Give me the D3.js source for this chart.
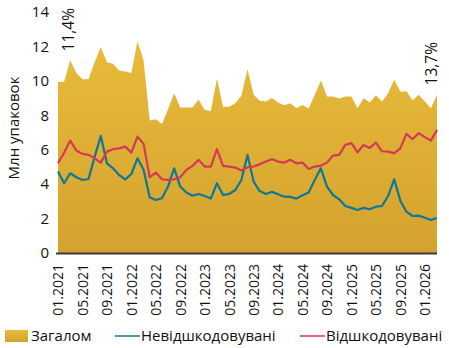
<!DOCTYPE html>
<html><head><meta charset="utf-8">
<script src="https://cdn.jsdelivr.net/npm/d3@7"></script>
<style>
html,body{margin:0;padding:0;background:#fff;}
svg{display:block;font-family:"Open Sans",sans-serif;}
</style></head><body>
<svg id="chart" width="449" height="348"></svg>
<script>
const startYear = 2021, startMonth = 1, monthCount = 63;
const months = d3.range(monthCount).map(i => {
  const m = (startMonth - 1 + i) % 12 + 1, y = startYear + Math.floor((startMonth - 1 + i) / 12);
  return String(m).padStart(2, "0") + "." + y;
});
const total = [9.94,9.95,11.2,10.45,10.1,10.1,11.1,11.96,11.08,11.0,10.6,10.55,10.45,12.3,11.2,7.7,7.77,7.5,8.35,9.28,8.45,8.45,8.45,8.9,8.3,8.25,10.13,8.5,8.5,8.7,9.13,10.68,9.19,8.84,8.8,9.0,8.74,8.58,8.7,8.41,8.6,8.39,9.19,10.02,9.09,9.09,8.97,9.09,9.09,8.41,8.99,8.74,9.17,8.8,9.28,10.06,9.36,9.4,8.86,9.19,8.8,8.41,9.19];
const nonReimbursed = [4.73,4.05,4.63,4.4,4.24,4.3,5.6,6.8,5.21,4.92,4.53,4.28,4.59,5.5,4.83,3.24,3.08,3.18,3.86,4.92,3.86,3.51,3.33,3.43,3.31,3.16,4.05,3.37,3.43,3.66,4.24,5.7,4.15,3.6,3.43,3.55,3.41,3.27,3.26,3.16,3.35,3.51,4.24,4.92,3.86,3.37,3.12,2.73,2.62,2.5,2.62,2.54,2.69,2.73,3.31,4.28,3.04,2.4,2.15,2.17,2.05,1.92,2.03];
const reimbursed = [5.21,5.83,6.53,5.95,5.76,5.7,5.5,5.25,5.89,6.03,6.08,6.18,5.83,6.76,6.34,4.4,4.67,4.28,4.25,4.28,4.4,4.83,5.06,5.41,5.02,5.02,6.03,5.06,5.02,4.96,4.79,4.98,5.02,5.15,5.31,5.45,5.31,5.25,5.41,5.21,5.25,4.88,5.02,5.08,5.25,5.66,5.7,6.28,6.38,5.85,6.28,6.1,6.41,5.91,5.89,5.8,6.08,6.92,6.61,6.96,6.73,6.53,7.15];
const yTicks = [0,2,4,6,8,10,12,14];
const xTickLabels = months.filter((d, i) => i % 4 === 0);
const annotations = [{index: 0, text: "11,4%"}, {index: 62, text: "13,7%"}];
const legendLabels = ["Загалом", "Невідшкодовувані", "Відшкодовувані"];
const yTitle = "Млн упаковок";

const colors = {areaTop: "#e8bb3b", areaBottom: "#d4a22e", blue: "#0e7896", red: "#d23a55", axis: "#3a3a3a", text: "#111"};

const svg = d3.select("#chart");
const x = d3.scalePoint().domain(months).range([58, 437]);
const y = d3.scaleLinear().domain([0, 14]).range([253, 12]);

const defs = svg.append("defs");
const grad = defs.append("linearGradient").attr("id", "ag").attr("x1", 0).attr("y1", 0).attr("x2", 0).attr("y2", 1);
grad.append("stop").attr("offset", "0%").attr("stop-color", colors.areaTop);
grad.append("stop").attr("offset", "100%").attr("stop-color", colors.areaBottom);

const area = d3.area().x((d, i) => x(months[i])).y0(y(0)).y1(d => y(d));
svg.append("path").datum(total).attr("d", area).attr("fill", "url(#ag)");

const line = d3.line().x((d, i) => x(months[i])).y(d => y(d));
svg.append("path").datum(nonReimbursed).attr("d", line).attr("fill", "none").attr("stroke", colors.blue).attr("stroke-width", 2.2).attr("stroke-linejoin", "round");
svg.append("path").datum(reimbursed).attr("d", line).attr("fill", "none").attr("stroke", colors.red).attr("stroke-width", 2.2).attr("stroke-linejoin", "round");

// y axis (labels only)
const yAxis = d3.axisLeft(y).tickValues(yTicks).tickSize(0).tickPadding(0).tickFormat(d3.format("d"));
const gy = svg.append("g").attr("transform", "translate(49,0)").call(yAxis);
gy.select(".domain").remove();
gy.selectAll("text").attr("font-size", 15).attr("fill", colors.text).attr("font-family", "Open Sans, sans-serif");

// x axis
const xAxis = d3.axisBottom(x).tickValues(xTickLabels).tickSize(0).tickPadding(0);
const gx = svg.append("g").attr("transform", `translate(0,${y(0)})`).call(xAxis);
gx.select(".domain").attr("d", `M56,0.5H437`).attr("stroke", colors.axis).attr("stroke-width", 2);
gx.selectAll("text").attr("font-size", 14).attr("fill", colors.text).attr("font-family", "Open Sans, sans-serif")
  .attr("transform", "rotate(-90)").attr("text-anchor", "end").attr("dy", "0.35em").attr("x", -11).attr("y", 0);

// y title
svg.append("text").attr("transform", "translate(19,128) rotate(-90)").attr("text-anchor", "middle")
  .attr("font-size", 15).attr("fill", colors.text).text(yTitle);

// annotations
annotations.forEach(a => {
  const px = x(months[a.index]) + (a.index === 0 ? 11 : -5);
  const top = a.index === 0 ? 8 : 42;
  svg.append("text").attr("transform", `translate(${px},${top}) rotate(-90)`).attr("text-anchor", "end").attr("dy", "0.35em")
    .attr("font-size", 15.5).attr("fill", colors.text).text(a.text);
});

// legend
const ly = 336;
const lg = svg.append("g");
lg.append("rect").attr("x", 5).attr("y", ly - 6).attr("width", 23).attr("height", 12).attr("fill", "url(#ag)");
lg.append("text").attr("x", 31).attr("y", ly).attr("dy", "0.35em").attr("font-size", 15).attr("fill", colors.text).text(legendLabels[0]);
lg.append("line").attr("x1", 115).attr("x2", 140).attr("y1", ly).attr("y2", ly).attr("stroke", colors.blue).attr("stroke-width", 1.5);
lg.append("text").attr("x", 141).attr("y", ly).attr("dy", "0.35em").attr("font-size", 15).attr("fill", colors.text).text(legendLabels[1]);
lg.append("line").attr("x1", 300).attr("x2", 325).attr("y1", ly).attr("y2", ly).attr("stroke", colors.red).attr("stroke-width", 1.5);
lg.append("text").attr("x", 326).attr("y", ly).attr("dy", "0.35em").attr("font-size", 15).attr("fill", colors.text).text(legendLabels[2]);
</script>
</body></html>
